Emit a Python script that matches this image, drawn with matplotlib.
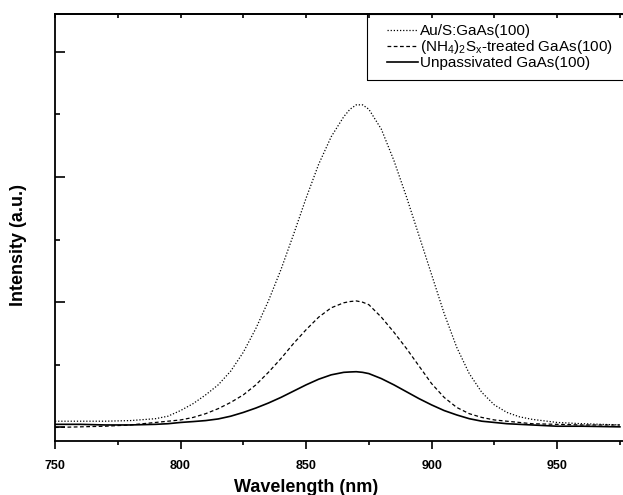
import matplotlib
matplotlib.use("Agg")
import matplotlib.pyplot as plt
from matplotlib.patches import Rectangle
from matplotlib.ticker import MultipleLocator, NullFormatter

plt.rcParams['font.family'] = ['Liberation Sans', 'DejaVu Sans']
plt.rcParams['mathtext.default'] = 'regular'

# wavelength grid (nm)
wl = [750, 760, 770, 780, 790, 795, 800, 805, 810, 815, 820, 825, 830, 835, 840,
      845, 850, 855, 860, 865, 867.5, 870, 872.5, 875, 880, 885, 890, 895, 900,
      905, 910, 915, 920, 925, 930, 935, 940, 950, 960, 975]

au_s = [0.05, 0.05, 0.05, 0.055, 0.07, 0.09, 0.135, 0.19, 0.26, 0.34, 0.45, 0.60,
        0.79, 1.01, 1.26, 1.54, 1.83, 2.10, 2.32, 2.48, 2.54, 2.575, 2.575, 2.54,
        2.38, 2.13, 1.84, 1.53, 1.22, 0.91, 0.64, 0.43, 0.28, 0.18, 0.12, 0.085,
        0.065, 0.04, 0.03, 0.02]

nh4 = [0.0, 0.005, 0.01, 0.02, 0.04, 0.05, 0.06, 0.08, 0.11, 0.15, 0.20, 0.26,
       0.34, 0.44, 0.55, 0.67, 0.78, 0.88, 0.955, 0.995, 1.005, 1.01, 1.0, 0.98,
       0.88, 0.76, 0.63, 0.49, 0.35, 0.24, 0.16, 0.11, 0.08, 0.06, 0.05, 0.04,
       0.03, 0.025, 0.02, 0.02]

unpass = [0.025, 0.025, 0.02, 0.02, 0.025, 0.03, 0.04, 0.047, 0.055, 0.068, 0.09,
          0.12, 0.155, 0.195, 0.24, 0.29, 0.34, 0.385, 0.42, 0.44, 0.443, 0.445,
          0.44, 0.43, 0.39, 0.34, 0.285, 0.23, 0.18, 0.135, 0.10, 0.07, 0.05,
          0.04, 0.03, 0.025, 0.02, 0.01, 0.01, 0.005]

labels = ['Au/S:GaAs(100)', '(NH$_4$)$_2$S$_x$-treated GaAs(100)',
          'Unpassivated GaAs(100)']

fig = plt.figure(figsize=(6.23, 4.95), dpi=100)
ax = fig.add_axes([55/623, 54/495, 590/623, 427/495])

ax.plot(wl, au_s, color='black', lw=0.9, ls=(0, (1, 1.5)), label=labels[0])
ax.plot(wl, nh4, color='black', lw=0.9, ls=(0, (3, 2)), label=labels[1])
ax.plot(wl, unpass, color='black', lw=1.2, ls='-', label=labels[2])

ax.set_xlim(750, 985)
ax.set_ylim(-0.108, 3.30)

for s in ax.spines.values():
    s.set_linewidth(1.3)
ax.spines['right'].set_visible(False)

ax.xaxis.set_major_locator(MultipleLocator(50))
ax.xaxis.set_minor_locator(MultipleLocator(25))
ax.yaxis.set_major_locator(MultipleLocator(1))
ax.yaxis.set_minor_locator(MultipleLocator(0.5))
ax.yaxis.set_major_formatter(NullFormatter())

ax.tick_params(axis='x', which='major', direction='out', length=6, width=1.2,
               labelsize=9, pad=8)
ax.tick_params(axis='x', which='minor', direction='out', length=3, width=1.2)
ax.tick_params(axis='y', which='major', direction='in', length=7, width=1.2)
ax.tick_params(axis='y', which='minor', direction='in', length=3.5, width=1.2)
for t in ax.get_xticklabels():
    t.set_fontweight('bold')

top = ax.secondary_xaxis('top')
top.xaxis.set_major_locator(MultipleLocator(25))
top.xaxis.set_major_formatter(NullFormatter())
top.tick_params(direction='in', length=3, width=1.2)
top.spines['top'].set_linewidth(1.3)

ax.set_xlabel('Wavelength (nm)', fontsize=13, fontweight='bold')
ax.xaxis.set_label_coords((306 - 55) / 590, -0.088)
ax.set_ylabel('Intensity (a.u.)', fontsize=13, fontweight='bold')
ax.yaxis.set_label_coords(-0.048, (441 - 245) / 427)

# legend box runs off the right edge, as in the reference
fig.patches.append(Rectangle((367/623, 1 - 80/495), 0.6, 66/495,
                             transform=fig.transFigure, fill=False,
                             edgecolor='black', lw=0.8))
ax.legend(loc='upper left', bbox_to_anchor=(387/623, 1 - 24/495),
          bbox_transform=fig.transFigure, borderaxespad=0, borderpad=0,
          fontsize=11, frameon=False, handlelength=2.0, handletextpad=0.15,
          labelspacing=0.0)

fig.savefig('out.png', dpi=100)
